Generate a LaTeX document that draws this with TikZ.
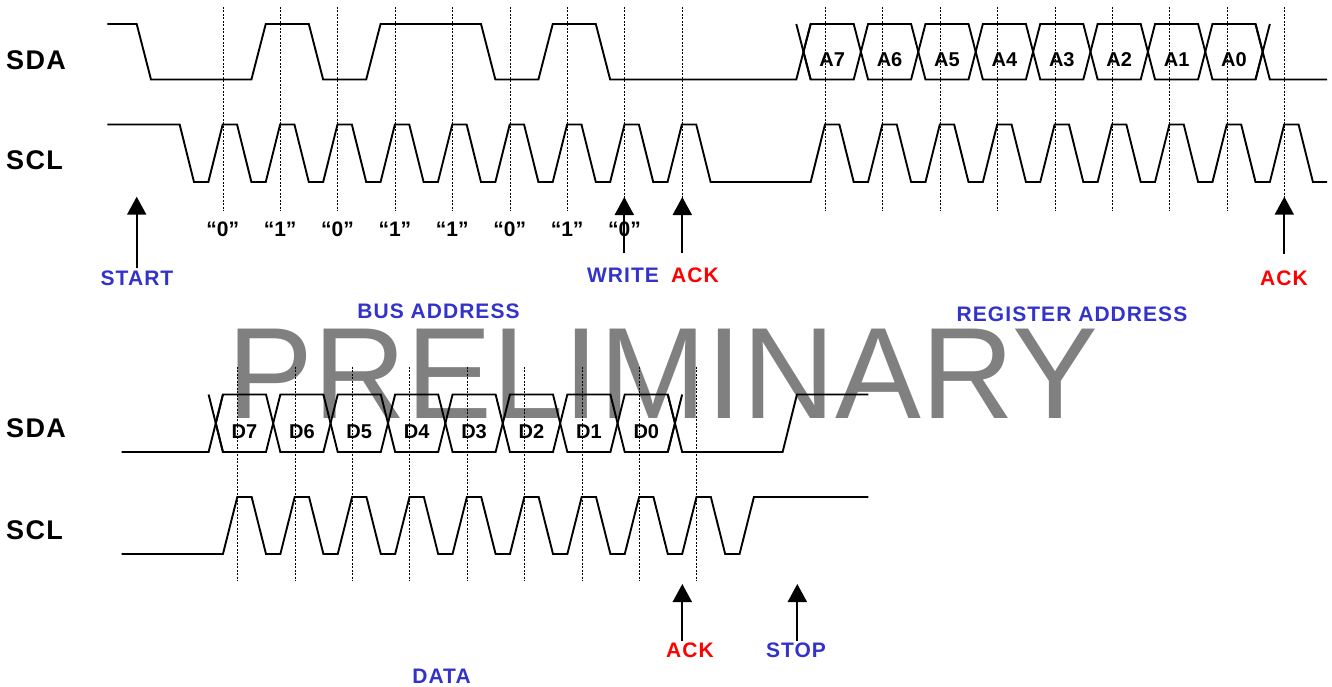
\documentclass[tikz,border=0pt]{standalone}
\usepackage{fontspec}
\setmainfont{Liberation Sans}
\newfontfamily\spaced{Liberation Sans}[LetterSpace=5.0]
\usetikzlibrary{arrows.meta}
\definecolor{lblue}{RGB}{51,51,204}
\definecolor{lred}{RGB}{255,0,0}
\definecolor{wmgray}{RGB}{128,128,128}
\begin{document}
\begin{tikzpicture}[x=1pt,y=-1pt,
  wave/.style={line width=1.9pt, line join=miter},
  dotline/.style={line width=1.5pt, dash pattern=on 2pt off 1.5pt},
  sigarrow/.style={line width=2pt, -{Triangle[width=19pt,length=18pt]}},
  siglbl/.style={font={\spaced\bfseries\fontsize{27}{27}\selectfont}, anchor=west, inner sep=0pt},
  bitlbl/.style={font={\bfseries\fontsize{21}{21}\selectfont}, inner sep=0pt},
  hexlbl/.style={font={\bfseries\fontsize{20}{20}\selectfont}, inner sep=0pt},
  bluelbl/.style={font={\spaced\bfseries\fontsize{21}{21}\selectfont}, text=lblue, inner sep=0pt},
  redlbl/.style={font={\spaced\bfseries\fontsize{21}{21}\selectfont}, text=lred, inner sep=0pt},
  wmark/.style={font={\fontsize{130}{130}\selectfont}, text=wmgray, inner sep=0pt, anchor=base west}]
\useasboundingbox (0,0) rectangle (1332,687);
\def\P{57.4}\def\q{14.35}
\def\Da{222.7}\def\Ra{825}\def\Ba{237.3}
% levels
\def\Dh{24}\def\Dl{79.5}\def\Th{124.5}\def\Tl{182}
\def\bh{394.5}\def\bl{452}\def\ch{497}\def\cl{554}

% watermark
\node[wmark] (wm) at (227.5,418.3) {\scalebox{0.99}[1]{PRELIMINARY}};

% signal names
\node[siglbl] (sda1) at (6,60.3) {SDA};
\node[siglbl] (scl1) at (6,160) {SCL};
\node[siglbl] (sda2) at (6,427.8) {SDA};
\node[siglbl] (scl2) at (6,529.7) {SCL};

% ---------- top SDA ----------
\draw[wave] (107.3,\Dh) -- (136.7,\Dh) -- (151,\Dl)
  -- ({\Da+\P-2*\q},\Dl) -- ({\Da+\P-\q},\Dh)
  -- ({\Da+2*\P-2*\q},\Dh) -- ({\Da+2*\P-\q},\Dl)
  -- ({\Da+3*\P-2*\q},\Dl) -- ({\Da+3*\P-\q},\Dh)
  -- ({\Da+5*\P-2*\q},\Dh) -- ({\Da+5*\P-\q},\Dl)
  -- ({\Da+6*\P-2*\q},\Dl) -- ({\Da+6*\P-\q},\Dh)
  -- ({\Da+7*\P-2*\q},\Dh) -- ({\Da+7*\P-\q},\Dl)
  -- ({\Ra-2*\q},\Dl) -- ({\Ra-\q},\Dh);
\draw[wave] ({\Ra-2*\q},\Dh) -- ({\Ra-\q},\Dl);
\foreach \k in {0,...,7}{
  \draw[wave] ({\Ra+\P*\k-1.5*\q},{(\Dh+\Dl)/2}) -- ({\Ra+\P*\k-\q},\Dh)
    -- ({\Ra+\P*(\k+1)-2*\q},\Dh) -- ({\Ra+\P*(\k+1)-1.5*\q},{(\Dh+\Dl)/2})
    -- ({\Ra+\P*(\k+1)-2*\q},\Dl) -- ({\Ra+\P*\k-\q},\Dl) -- cycle;
}
\foreach \k [evaluate=\k as \n using int(7-\k)] in {0,...,7}{
  \node[hexlbl] (a\n) at ({\Ra+\P*\k+0.5*\q},60) {A\n};
}
\draw[wave] ({\Ra+8*\P-2*\q},\Dh) -- ({\Ra+8*\P-\q},\Dl) -- (1327,\Dl);
\draw[wave] ({\Ra+8*\P-2*\q},\Dl) -- ({\Ra+8*\P-\q},\Dh);

% ---------- top SCL ----------
\draw[wave] (107.3,\Th) -- ({\Da-3*\q},\Th) -- ({\Da-2*\q},\Tl)
  \foreach \k in {0,...,8}{ -- ({\Da+\P*\k-\q},\Tl) -- ({\Da+\P*\k},\Th) -- ({\Da+\P*\k+\q},\Th) -- ({\Da+\P*\k+2*\q},\Tl) }
  \foreach \k in {0,...,8}{ -- ({\Ra+\P*\k-\q},\Tl) -- ({\Ra+\P*\k},\Th) -- ({\Ra+\P*\k+\q},\Th) -- ({\Ra+\P*\k+2*\q},\Tl) }
  -- (1327,\Tl);

% top dotted lines (snapped to pixel centres)
\foreach \k in {0,...,8}{
  \draw[dotline] ({round(\Da+\P*\k)+0.5},7) -- ({round(\Da+\P*\k)+0.5},210.7);
  \draw[dotline] ({round(\Ra+\P*\k)+0.5},7) -- ({round(\Ra+\P*\k)+0.5},210.7);
}

% bit values
\foreach \b [count=\i from 0] in {0,1,0,1,1,0,1,0}{
  \node[bitlbl] (bit\i) at ({\Da+\P*\i},229.3) {“\b”};
}

% ---------- bottom SDA ----------
\draw[wave] (121.7,\bl) -- ({\Ba-2*\q},\bl) -- ({\Ba-\q},\bh);
\draw[wave] ({\Ba-2*\q},\bh) -- ({\Ba-\q},\bl);
\foreach \k in {0,...,7}{
  \draw[wave] ({\Ba+\P*\k-1.5*\q},{(\bh+\bl)/2}) -- ({\Ba+\P*\k-\q},\bh)
    -- ({\Ba+\P*(\k+1)-2*\q},\bh) -- ({\Ba+\P*(\k+1)-1.5*\q},{(\bh+\bl)/2})
    -- ({\Ba+\P*(\k+1)-2*\q},\bl) -- ({\Ba+\P*\k-\q},\bl) -- cycle;
}
\foreach \k [evaluate=\k as \n using int(7-\k)] in {0,...,7}{
  \node[hexlbl] (d\n) at ({\Ba+\P*\k+0.5*\q},432) {D\n};
}
\draw[wave] ({\Ba+8*\P-2*\q},\bh) -- ({\Ba+8*\P-\q},\bl) -- ({\Ba+8*\P+6*\q},\bl)
  -- ({\Ba+8*\P+7*\q},\bh) -- (868.3,\bh);
\draw[wave] ({\Ba+8*\P-2*\q},\bl) -- ({\Ba+8*\P-\q},\bh);

% ---------- bottom SCL ----------
\draw[wave] (121.7,\cl) -- ({\Ba-\q},\cl)
  \foreach \k in {0,...,8}{ -- ({\Ba+\P*\k},\ch) -- ({\Ba+\P*\k+\q},\ch) -- ({\Ba+\P*\k+2*\q},\cl) -- ({\Ba+\P*\k+3*\q},\cl) }
  -- ({\Ba+8*\P+4*\q},\ch) -- (868.3,\ch);

% bottom dotted lines
\foreach \k in {0,...,8}{
  \draw[dotline] ({round(\Ba+\P*\k)+0.5},366.7) -- ({round(\Ba+\P*\k)+0.5},580.7);
}

% ---------- arrows and labels ----------
\coordinate (startTail) at (136.7,268.3); \coordinate (startTip) at (136.7,196.7);
\coordinate (writeTail) at (624.3,253.3); \coordinate (writeTip) at (624.3,197);
\coordinate (ackaTail) at (682.3,253.3);  \coordinate (ackaTip) at (682.3,197);
\coordinate (ackbTail) at (1284.3,254);   \coordinate (ackbTip) at (1284.3,196.7);
\coordinate (ackcTail) at (682.3,640.7);  \coordinate (ackcTip) at (682.3,584);
\coordinate (stopTail) at (797.3,640.7);  \coordinate (stopTip) at (797.3,584);
\draw[sigarrow] (startTail) -- (startTip);
\draw[sigarrow] (writeTail) -- (writeTip);
\draw[sigarrow] (ackaTail) -- (ackaTip);
\draw[sigarrow] (ackbTail) -- (ackbTip);
\draw[sigarrow] (ackcTail) -- (ackcTip);
\draw[sigarrow] (stopTail) -- (stopTip);

\node[bluelbl] (start) at (137,278.3) {START};
\node[bluelbl] (write) at (623,275) {WRITE};
\node[redlbl] (acka) at (695,275) {ACK};
\node[redlbl] (ackb) at (1284,278.3) {ACK};
\node[bluelbl] (busaddr) at (438.5,311.7) {BUS ADDRESS};
\node[bluelbl] (regaddr) at (1072,314.7) {REGISTER ADDRESS};
\node[redlbl] (ackc) at (690,650) {ACK};
\node[bluelbl] (stop) at (796,650) {STOP};
\node[bluelbl] (data) at (441.5,676) {DATA};
\end{tikzpicture}
\end{document}
